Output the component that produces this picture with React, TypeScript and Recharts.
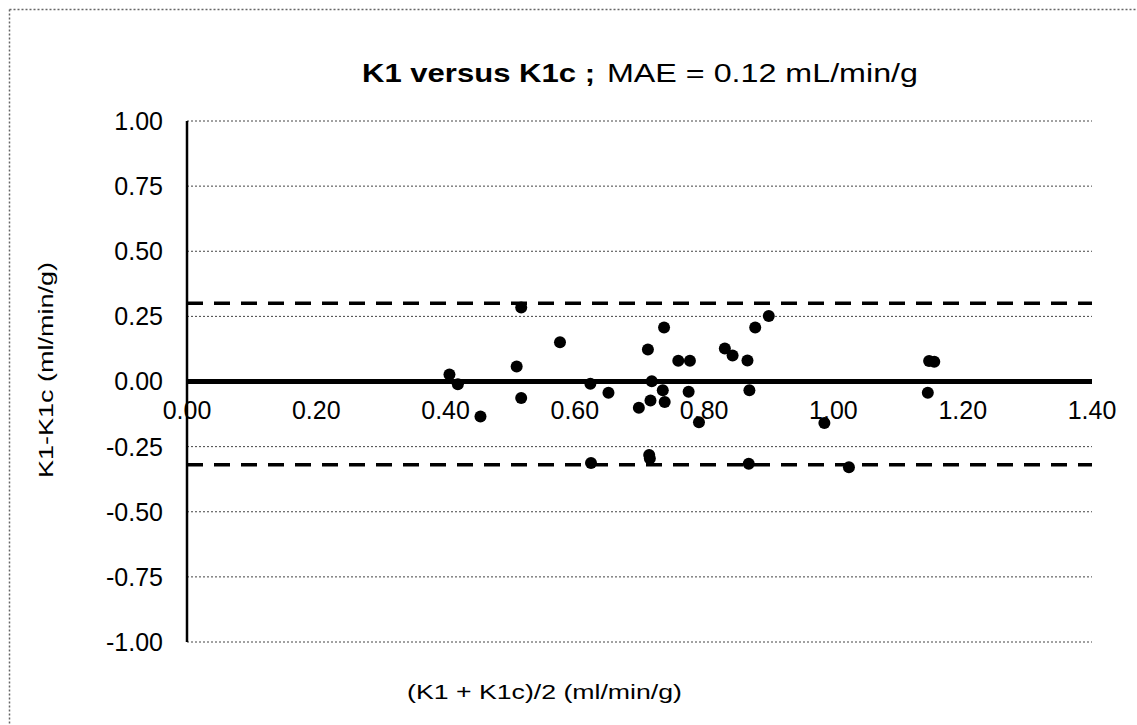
import React from 'react';
import {
  ScatterChart,
  Scatter,
  XAxis,
  YAxis,
  CartesianGrid,
  ReferenceLine,
  ReferenceDot,
} from 'recharts';

// Bland-Altman data: mean of K1 and K1c (x) vs difference K1 - K1c (y)
const meanK1 = [
  0.406, 0.419, 0.454, 0.51, 0.517, 0.517, 0.577, 0.624, 0.652, 0.625,
  0.713, 0.738, 0.719, 0.736, 0.739, 0.717, 0.699, 0.715, 0.716, 0.76,
  0.778, 0.776, 0.792, 0.832, 0.844, 0.867, 0.879, 0.9, 0.87, 0.869,
  0.986, 1.024, 1.148, 1.156, 1.146,
];
const diffK1 = [
  0.027, -0.011, -0.134, 0.058, -0.063, 0.284, 0.151, -0.009, -0.043, -0.313,
  0.123, 0.207, 0.001, -0.034, -0.079, -0.073, -0.101, -0.282, -0.296, 0.08,
  0.08, -0.039, -0.156, 0.127, 0.1, 0.081, 0.207, 0.251, -0.034, -0.316,
  -0.159, -0.329, 0.079, 0.076, -0.043,
];
const xTicks = [0, 0.2, 0.4, 0.6, 0.8, 1.0, 1.2, 1.4];
const yTicks = [-1, -0.75, -0.5, -0.25, 0, 0.25, 0.5, 0.75, 1];
const upperLimit = 0.3;
const lowerLimit = -0.32;

const titleBold = 'K1 versus K1c ;';
const titleNormal = 'MAE = 0.12 mL/min/g';
const xLabel = '(K1 + K1c)/2 (ml/min/g)';
const yLabel = 'K1-K1c (ml/min/g)';

const FONT = '"Liberation Sans", Arial, sans-serif';

const data = meanK1.map((x, i) => ({ x, y: diffK1[i] }));

const Dot = (props: any) => {
  const { cx, cy } = props;
  if (cx == null || cy == null) return null;
  return <circle cx={cx} cy={cy} r={6} fill="#000" />;
};

export default function App() {
  return (
    <div
      style={{
        position: 'fixed',
        left: 0,
        top: 0,
        width: 1137,
        height: 725,
        overflow: 'hidden',
        background: '#fff',
        fontFamily: FONT,
      }}
    >
      <ScatterChart
        width={1137}
        height={725}
        margin={{ top: 121, right: 45, bottom: 83, left: 0 }}
        style={{ position: 'absolute', left: 0, top: 0 }}
      >
        <CartesianGrid
          horizontal
          vertical={false}
          stroke="#444"
          strokeDasharray="2 2"
          strokeWidth={1}
        />
        <XAxis
          type="number"
          dataKey="x"
          domain={[0, 1.4]}
          ticks={xTicks}
          hide
        />
        <YAxis
          type="number"
          dataKey="y"
          domain={[-1, 1]}
          ticks={yTicks}
          width={187}
          tickLine={false}
          tickSize={0}
          tickMargin={24}
          axisLine={{ stroke: '#000', strokeWidth: 2.5 }}
          tick={{ fill: '#000', fontSize: 25, fontFamily: FONT }}
          tickFormatter={(v: number) => v.toFixed(2)}
          interval={0}
        />
        <ReferenceLine y={upperLimit} stroke="#000" strokeWidth={3.5} strokeDasharray="16 11" />
        <ReferenceLine y={lowerLimit} stroke="#000" strokeWidth={3.5} strokeDasharray="16 11" />
        <ReferenceLine y={0} stroke="#000" strokeWidth={5} />
        {xTicks.map((t) => (
          <ReferenceDot
            key={t}
            x={t}
            y={0}
            r={0}
            fill="none"
            stroke="none"
            label={{
              value: t.toFixed(2),
              position: 'bottom',
              offset: 20,
              fill: '#000',
              fontSize: 25,
              fontFamily: FONT,
            }}
          />
        ))}
        <Scatter data={data} fill="#000" shape={Dot} isAnimationActive={false} />
      </ScatterChart>
      <svg
        width={1137}
        height={725}
        style={{ position: 'absolute', left: 0, top: 0, pointerEvents: 'none' }}
      >
        <line x1={9.5} y1={9.5} x2={1137} y2={9.5} stroke="#666" strokeWidth={1.5} strokeDasharray="2 2" />
        <line x1={9.5} y1={9.5} x2={9.5} y2={725} stroke="#666" strokeWidth={1.5} strokeDasharray="2 2" />
        <text
          x={362}
          y={82}
          fontSize={26}
          fontWeight="bold"
          fontFamily={FONT}
          fill="#000"
          textLength={233}
          lengthAdjust="spacingAndGlyphs"
        >
          {titleBold}
        </text>
        <text
          x={607}
          y={82}
          fontSize={26}
          fontFamily={FONT}
          fill="#000"
          textLength={311}
          lengthAdjust="spacingAndGlyphs"
        >
          {titleNormal}
        </text>
        <text
          x={407}
          y={699}
          fontSize={20}
          fontFamily={FONT}
          fill="#000"
          textLength={275}
          lengthAdjust="spacingAndGlyphs"
        >
          {xLabel}
        </text>
        <text
          x={53}
          y={370}
          fontSize={20}
          fontFamily={FONT}
          fill="#000"
          textAnchor="middle"
          transform="rotate(-90, 53, 370)"
          textLength={216}
          lengthAdjust="spacingAndGlyphs"
        >
          {yLabel}
        </text>
      </svg>
    </div>
  );
}
